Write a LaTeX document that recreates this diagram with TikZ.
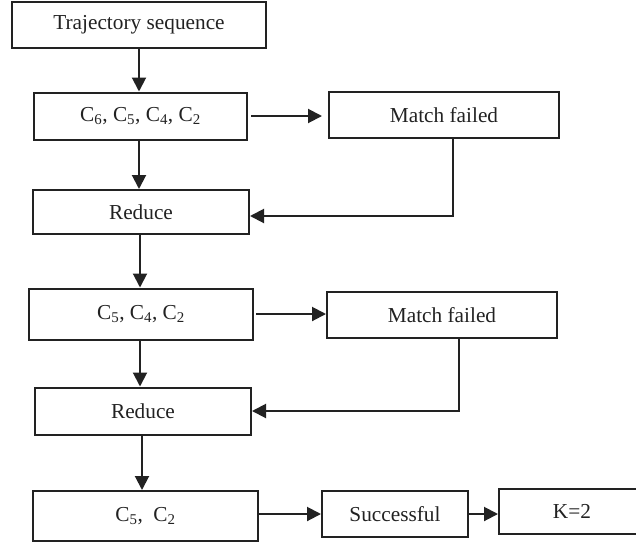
\documentclass[tikz,border=0pt]{standalone}
\usepackage{fontspec}
\setmainfont{Liberation Serif}
\usetikzlibrary{arrows.meta}
\definecolor{ink}{HTML}{222222}
\tikzset{
  box/.style={draw=ink, line width=2pt, inner sep=0pt, text=ink,
    font=\fontsize{21.3}{25}\selectfont},
  arr/.style={draw=ink, line width=2pt, -{Triangle[length=14pt,width=14pt]}},
}
\begin{document}
\begin{tikzpicture}[x=1pt,y=-1pt]
\useasboundingbox (0,0) rectangle (636,544);
\node[box, minimum width=254pt, minimum height=46pt] (t) at (139,25) {Trajectory sequence};
\node[box, minimum width=213pt, minimum height=47pt] (b1) at (140.5,116) {C\textsubscript{6}, C\textsubscript{5}, C\textsubscript{4}, C\textsubscript{2}};
\node[box, minimum width=230pt, minimum height=46pt] (mf1) at (444,115) {Match failed};
\node[box, minimum width=216pt, minimum height=44pt] (r1) at (141,212) {Reduce};
\node[box, minimum width=224pt, minimum height=51pt] (b2) at (141,314) {C\textsubscript{5}, C\textsubscript{4}, C\textsubscript{2}};
\node[box, minimum width=230pt, minimum height=46pt] (mf2) at (442,315) {Match failed};
\node[box, minimum width=216pt, minimum height=47pt] (r2) at (143,411) {Reduce};
\node[box, minimum width=225pt, minimum height=50pt] (b3) at (145.5,516) {C\textsubscript{5},\ \ C\textsubscript{2}};
\node[box, minimum width=146pt, minimum height=46pt] (s) at (395,514) {Successful};
\node[box, minimum width=146pt, minimum height=45pt] (k) at (572,511.5) {K=2};

\draw[arr] (t.south -| 139,0) -- (b1.north -| 139,0);
\draw[arr] (b1.south -| 139,0) -- (r1.north -| 139,0);
\draw[arr] (r1.south -| 140,0) -- (b2.north -| 140,0);
\draw[arr] (b2.south -| 140,0) -- (r2.north -| 140,0);
\draw[arr] (r2.south -| 142,0) -- (b3.north -| 142,0);

\draw[arr, shorten <=3pt, shorten >=6pt] (b1.east) -- (b1.east -| mf1.west);
\draw[arr, shorten <=2pt] (b2.east) -- (b2.east -| mf2.west);
\draw[arr] (s.west -| b3.east) -- (s.west);
\draw[arr] (s.east) -- (s.east -| k.west);

\draw[arr] ([xshift=9pt]mf1.south) |- ([yshift=-4pt]r1.east);
\draw[arr] ([xshift=17pt]mf2.south) |- (r2.east);
\end{tikzpicture}
\end{document}
